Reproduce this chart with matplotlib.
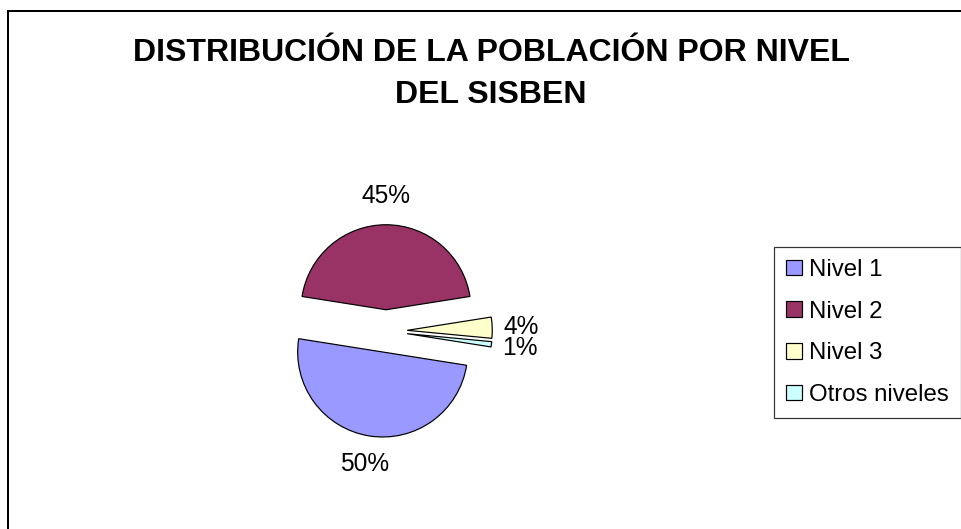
import matplotlib
matplotlib.use("Agg")
import matplotlib.pyplot as plt
from matplotlib.lines import Line2D
from matplotlib.patches import Patch

categories = ["Nivel 1", "Nivel 2", "Nivel 3", "Otros niveles"]
values = [50, 45, 4, 1]
colors = ["#9999FF", "#993366", "#FFFFCC", "#CCFFFF"]
title = "DISTRIBUCIÓN DE LA POBLACIÓN POR NIVEL\nDEL SISBEN"

W, H = 961, 529
DPI = 72
plt.rcParams['font.family'] = ['Liberation Sans', 'DejaVu Sans']

fig = plt.figure(figsize=(W / DPI, H / DPI), dpi=DPI)
fig.patch.set_facecolor("white")
ax = fig.add_axes([0, 0, 1, 1])

cx, cy, r = 386, H - 331, 85
gap = 0.25 * r
wedges, texts, autotexts = ax.pie(
    values, colors=colors, explode=[gap] * 4, startangle=-9,
    counterclock=False, center=(cx, cy), radius=r,
    autopct='%1.0f%%', pctdistance=1.34,
    wedgeprops=dict(edgecolor="black", linewidth=1.2),
    textprops=dict(fontsize=24.5, color="black"))
ax.set_xlim(0, W)
ax.set_ylim(0, H)
ax.set_aspect('auto')
ax.axis('off')

fig.text(491 / W, 1 - 74 / H, title, ha='center', va='center',
         fontsize=32, fontweight='bold', linespacing=1.55)

handles = [Patch(facecolor=c, edgecolor='black', linewidth=1.2) for c in colors]
leg = fig.legend(handles, categories, loc='upper left',
                 bbox_to_anchor=(774 / W, 1 - 247 / H), borderaxespad=0,
                 fontsize=24, frameon=True, fancybox=False, shadow=False,
                 handlelength=0.65, handleheight=0.62, handletextpad=0.3,
                 labelspacing=0.82, borderpad=0.5)
leg.get_frame().set_edgecolor('black')
leg.get_frame().set_linewidth(1.2)

# chart area border (partially outside the image)
fig.add_artist(Line2D([8 / W, 1.01], [1 - 11 / H, 1 - 11 / H], color='black', linewidth=2,
                      transform=fig.transFigure))
fig.add_artist(Line2D([8 / W, 8 / W], [1 - 11 / H, -0.01], color='black', linewidth=2,
                      transform=fig.transFigure))

fig.savefig("out.png", dpi=DPI)
